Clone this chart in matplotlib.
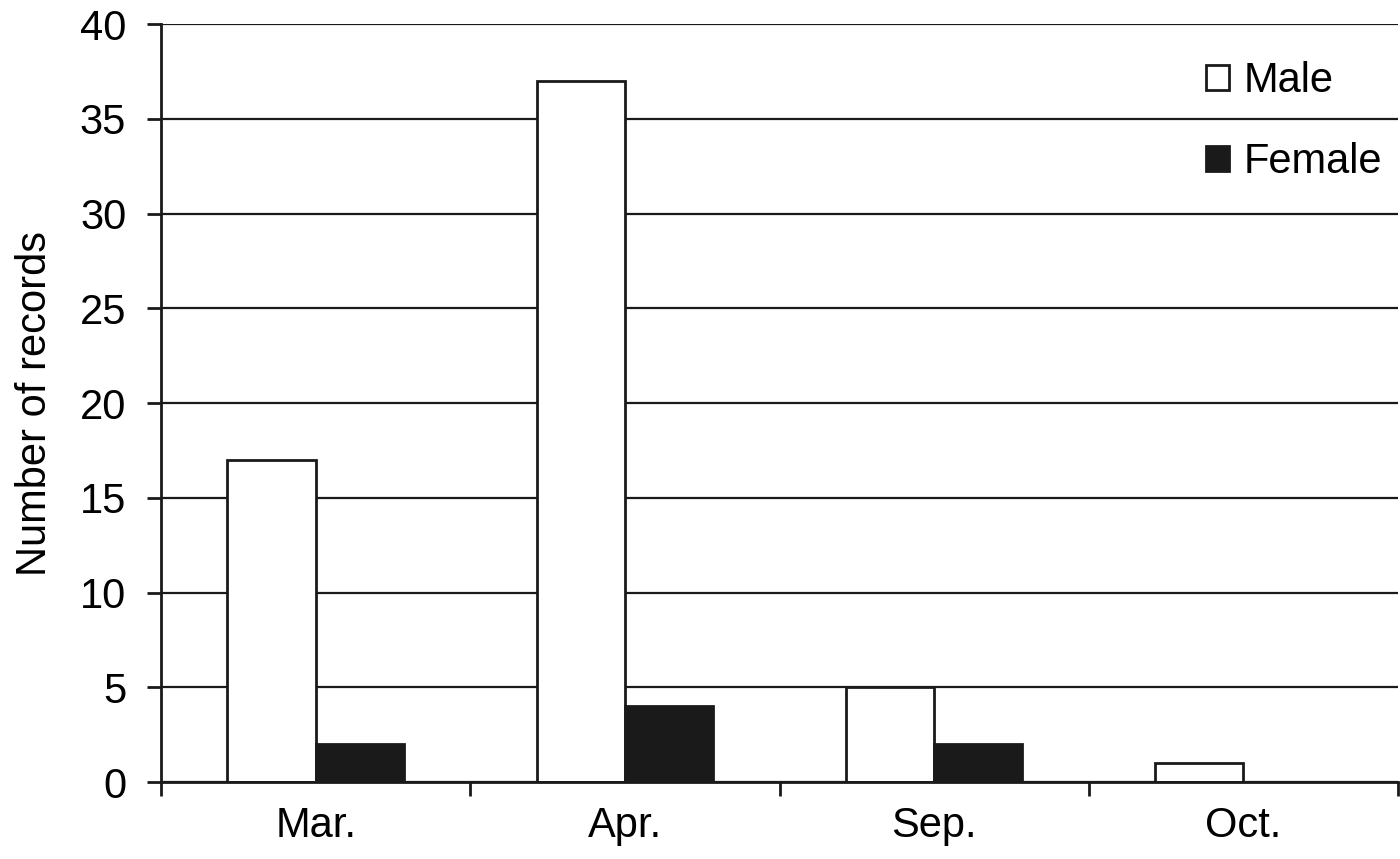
import numpy as np
import matplotlib.pyplot as plt
from matplotlib.patches import Patch

months = ["Mar.", "Apr.", "Sep.", "Oct."]
male = [17, 37, 5, 1]
female = [2, 4, 2, 0]
y_ticks = [0, 5, 10, 15, 20, 25, 30, 35, 40]

plt.rcParams['font.family'] = ['Liberation Sans', 'DejaVu Sans']
ink = "#1a1a1a"
lw = 2.0
fs = 30

fig = plt.figure(figsize=(14, 8.59), dpi=100)
ax = fig.add_axes([0.115, 0.0896, 0.8836, 0.8824])

x = np.arange(len(months))
w = 0.285
ax.bar(x - w / 2, male, w, color="white", edgecolor=ink, linewidth=lw, zorder=3)
ax.bar(x + w / 2, female, w, color=ink, edgecolor=ink, linewidth=lw, zorder=3)

ax.set_xlim(-0.5, len(months) - 0.5)
ax.set_ylim(0, 40)
ax.set_yticks(y_ticks)
ax.yaxis.grid(True, color=ink, linewidth=1.6, zorder=0)
ax.set_axisbelow(True)

ax.set_xticks(x)
ax.set_xticklabels(months, fontsize=fs)
ax.set_xticks(np.arange(-0.5, len(months)), minor=True)
ax.tick_params(axis="x", which="major", length=0, pad=17)
ax.tick_params(axis="x", which="minor", length=10, width=lw, color=ink, direction="out")
ax.tick_params(axis="y", length=10, width=lw, color=ink, direction="out", labelsize=fs, pad=15)

for s in ["top", "right"]:
    ax.spines[s].set_visible(False)
for s in ["left", "bottom"]:
    ax.spines[s].set_color(ink)
    ax.spines[s].set_linewidth(lw)
    ax.spines[s].set_zorder(4)

ax.set_ylabel("Number of records", fontsize=fs, labelpad=18)

handles = [Patch(facecolor="white", edgecolor=ink, linewidth=lw, label="Male"),
           Patch(facecolor=ink, edgecolor=ink, linewidth=lw, label="Female")]
ax.legend(handles=handles, loc="upper right", bbox_to_anchor=(1.011, 0.99), frameon=False,
          fontsize=fs, handlelength=0.55, handleheight=0.55, handletextpad=0.35,
          labelspacing=1.0, borderaxespad=0.3)

fig.savefig("out.png", dpi=100)
